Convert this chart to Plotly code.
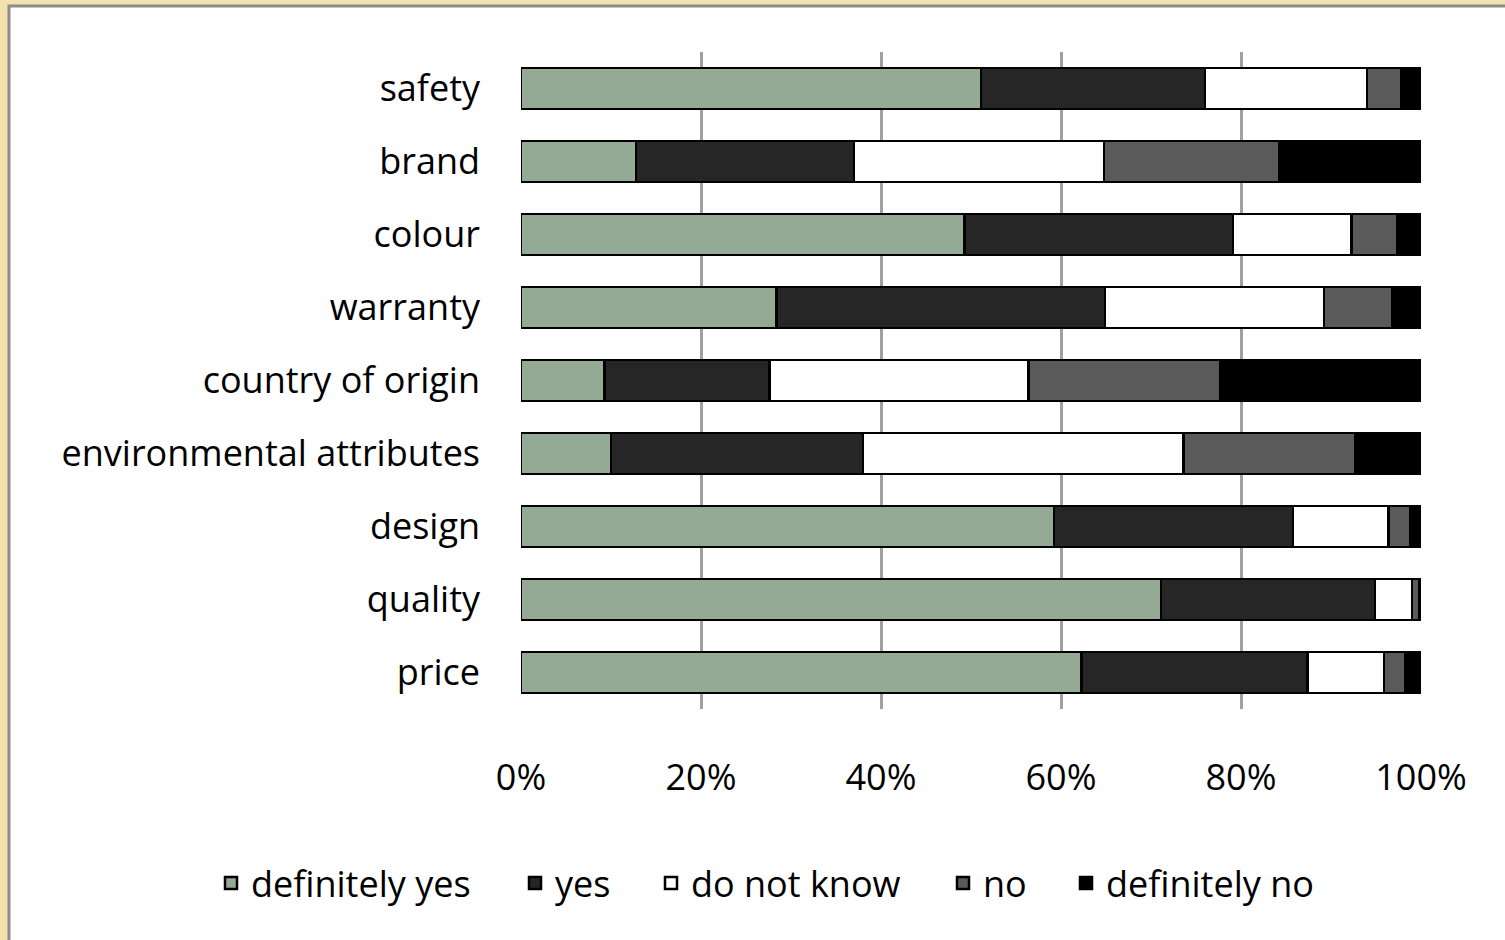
import plotly.graph_objects as go

categories = ["safety", "brand", "colour", "warranty", "country of origin",
              "environmental attributes", "design", "quality", "price"]

definitely_yes = [51.1, 12.8, 49.3, 28.4, 9.3, 10.0, 59.2, 71.1, 62.3]
yes = [24.9, 24.2, 29.8, 36.5, 18.3, 28.0, 26.6, 23.8, 25.1]
do_not_know = [18.0, 27.8, 13.2, 24.3, 28.8, 35.6, 10.6, 4.1, 8.5]
no = [3.8, 19.4, 5.1, 7.6, 21.3, 19.1, 2.4, 0.8, 2.3]
definitely_no = [2.2, 15.8, 2.6, 3.2, 22.3, 7.3, 1.2, 0.2, 1.8]

series = [
    ("definitely yes", definitely_yes, "#94aa94"),
    ("yes", yes, "#262626"),
    ("do not know", do_not_know, "#ffffff"),
    ("no", no, "#5a5a5a"),
    ("definitely no", definitely_no, "#000000"),
]

tick_vals = [0, 20, 40, 60, 80, 100]
tick_text = ["0%", "20%", "40%", "60%", "80%", "100%"]

FONT = "'Open Sans', Lato, sans-serif"
FS = 36
W, H = 1505, 940

fig = go.Figure()
legend_text_x = [253, 557, 693, 985, 1108]
for i, (name, vals, color) in enumerate(series):
    lname = "legend" if i == 0 else f"legend{i+1}"
    fig.add_trace(go.Bar(
        y=categories, x=vals, name=name, orientation="h",
        marker=dict(color=color, line=dict(color="#000000", width=2.5)),
        width=0.56, legend=lname,
        hovertemplate="%{y}: %{x}%<extra>" + name + "</extra>",
    ))

legends = {}
for i, tx in enumerate(legend_text_x):
    key = "legend" if i == 0 else f"legend{i+1}"
    legends[key] = dict(
        x=(tx - 42) / W, xref="container", xanchor="left",
        y=1 - 883 / H, yref="container", yanchor="middle",
        orientation="h", bgcolor="rgba(0,0,0,0)",
        font=dict(family=FONT, size=FS, color="#000000"),
        itemclick=False, itemdoubleclick=False,
    )

fig.update_layout(
    width=W, height=H,
    barmode="stack", bargap=0.44,
    paper_bgcolor="#f3e2ae", plot_bgcolor="#ffffff",
    margin=dict(l=521, r=W - 1421, t=52, b=H - 709),
    font=dict(family=FONT, size=FS, color="#000000"),
    showlegend=True,
    **legends,
    xaxis=dict(
        range=[0, 100], tickvals=tick_vals, ticktext=tick_text,
        showgrid=True, gridcolor="#a0a0a0", gridwidth=2.5,
        zeroline=False, showline=False, ticks="",
        ticklabelstandoff=44,
        tickfont=dict(family=FONT, size=FS, color="#000000"),
        fixedrange=True,
    ),
    yaxis=dict(
        categoryorder="array", categoryarray=categories,
        autorange="reversed", showgrid=False, zeroline=False,
        showline=False, ticks="", ticklabelstandoff=40,
        tickfont=dict(family=FONT, size=FS, color="#000000"),
        fixedrange=True,
    ),
    shapes=[dict(
        type="rect", xref="paper", yref="paper", layer="below",
        x0=(9 - 521) / 900, x1=(1520 - 521) / 900,
        y0=(709 - 960) / 657, y1=(709 - 6) / 657,
        fillcolor="#ffffff", line=dict(color="#8c8c8c", width=3),
    )],
)

fig.write_html("out.html")
